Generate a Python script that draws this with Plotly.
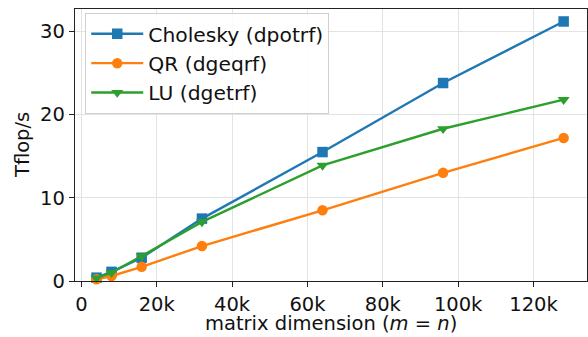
import plotly.graph_objects as go

# Data
matrix_dim = [4000, 8000, 16000, 32000, 64000, 96000, 128000]
cholesky = [0.4, 1.1, 2.8, 7.5, 15.5, 23.8, 31.2]
qr = [0.2, 0.6, 1.7, 4.2, 8.5, 13.0, 17.2]
lu = [0.35, 1.0, 3.0, 7.1, 13.9, 18.3, 21.8]

x_tickvals = [0, 20000, 40000, 60000, 80000, 100000, 120000]
x_ticktext = ["0", "20k", "40k", "60k", "80k", "100k", "120k"]
y_tickvals = [0, 10, 20, 30]

FONT = "DejaVu Sans"
FS = 19.5

fig = go.Figure()
series = [
    ("Cholesky (dpotrf)", cholesky, "#1f77b4", "square"),
    ("QR (dgeqrf)", qr, "#ff7f0e", "circle"),
    ("LU (dgetrf)", lu, "#2ca02c", "triangle-down"),
]
for name, ys, color, sym in series:
    fig.add_trace(go.Scatter(
        x=matrix_dim, y=ys, name=name, mode="lines+markers",
        line=dict(color=color, width=2.4),
        marker=dict(symbol=sym, size=10.5, color=color),
        cliponaxis=False,
    ))

axis_common = dict(
    showline=True, mirror=True, linecolor="#222222", linewidth=1.3,
    ticks="outside", ticklen=5, tickwidth=1.3, tickcolor="#222222",
    showgrid=True, gridcolor="#e3e3e3", gridwidth=1.1,
    zeroline=False, automargin=False,
    tickfont=dict(family=FONT, size=FS, color="#111111"),
)

fig.update_layout(
    width=588, height=337,
    margin=dict(l=75, r=1, t=9, b=56),
    paper_bgcolor="white", plot_bgcolor="white",
    font=dict(family=FONT, size=FS, color="#111111"),
    xaxis=dict(range=[-1700, 134200], tickvals=x_tickvals, ticktext=x_ticktext,
               **axis_common),
    yaxis=dict(range=[0, 32.7], tickvals=y_tickvals, **axis_common),
    legend=dict(
        x=0.02, y=0.985, xanchor="left", yanchor="top",
        bgcolor="rgba(255,255,255,0.85)", bordercolor="#d0d0d0", borderwidth=1,
        font=dict(family=FONT, size=20.3, color="#111111"),
        itemwidth=52,
    ),
    showlegend=True,
    annotations=[
        dict(text="matrix dimension (<i>m</i> = <i>n</i>)", xref="paper", yref="paper",
             x=0.5, y=0, yshift=-42, xanchor="center", yanchor="middle",
             showarrow=False, font=dict(family=FONT, size=FS, color="#111111")),
        dict(text="Tflop/s", xref="paper", yref="paper",
             x=0, y=0.5, xshift=-53, xanchor="center", yanchor="middle", textangle=-90,
             showarrow=False, font=dict(family=FONT, size=FS, color="#111111")),
    ],
)

fig.write_html("out.html", config={"displayModeBar": False},
               post_script="document.body.style.margin='0';document.body.style.padding='0';")
